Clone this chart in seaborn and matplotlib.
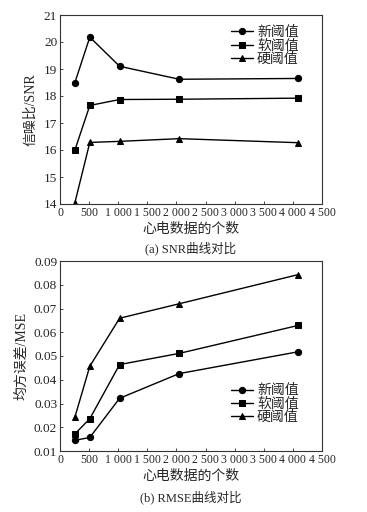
import matplotlib
matplotlib.use('Agg')
import matplotlib.pyplot as plt
import seaborn as sns
import pandas as pd
from matplotlib.ticker import FuncFormatter

n_points = [256, 512, 1024, 2048, 4096]
methods = ['新阈值', '软阈值', '硬阈值']
markers = ['o', 's', '^']

snr_new = [18.5, 20.18, 19.1, 18.62, 18.65]
snr_soft = [16.0, 17.65, 17.87, 17.88, 17.92]
snr_hard = [14.05, 16.28, 16.32, 16.42, 16.27]

mse_new = [0.0145, 0.0157, 0.0322, 0.0426, 0.0518]
mse_soft = [0.0172, 0.0236, 0.0464, 0.0511, 0.0629]
mse_hard = [0.0243, 0.0457, 0.0659, 0.0720, 0.0843]

sns.set_style('ticks')
plt.rcParams['font.family'] = ['Liberation Serif', 'Noto Sans CJK SC']
plt.rcParams['xtick.direction'] = 'in'
plt.rcParams['ytick.direction'] = 'in'

def build(vals):
    rows = []
    for m, v in zip(methods, vals):
        for x, y in zip(n_points, v):
            rows.append({'n': x, 'val': y, 'method': m})
    return pd.DataFrame(rows)

df_snr = build([snr_new, snr_soft, snr_hard])
df_mse = build([mse_new, mse_soft, mse_hard])

fig = plt.figure(figsize=(3.67, 5.12), dpi=100)
ax1 = fig.add_axes([60 / 367, 1 - 204 / 512, 262 / 367, 189 / 512])
ax2 = fig.add_axes([60 / 367, 1 - 451 / 512, 262 / 367, 190 / 512])

thou = FuncFormatter(lambda v, p: f'{int(v):,}'.replace(',', ' '))

for ax, df in [(ax1, df_snr), (ax2, df_mse)]:
    sns.lineplot(data=df, x='n', y='val', hue='method', style='method',
                 markers=markers, dashes=False, palette=['black'] * 3,
                 markersize=4.5, linewidth=1.0, markeredgecolor='black', ax=ax)
    ax.set_xlim(0, 4500)
    ax.set_xticks(range(0, 4501, 500))
    ax.xaxis.set_major_formatter(thou)
    ax.tick_params(axis='x', labelsize=8.5, length=2, width=0.6, pad=2)
    ax.tick_params(axis='y', labelsize=9.5, length=2, width=0.6, pad=2)
    for s in ax.spines.values():
        s.set_linewidth(0.8)
        s.set_color('#333333')
    ax.set_xlabel('心电数据的个数', fontsize=10, labelpad=3)

ax1.set_ylim(14, 21)
ax1.set_yticks(range(14, 22))
ax1.set_ylabel('信噪比/SNR', fontsize=10, labelpad=5)
ax1.legend(frameon=False, fontsize=10, loc='upper left',
           bbox_to_anchor=(0.63, 0.97), handlelength=1.6, labelspacing=0.0,
           handletextpad=0.3, borderaxespad=0, title=None)

ax2.set_ylim(0.01, 0.09)
ax2.set_yticks([0.01 * i for i in range(1, 10)])
ax2.yaxis.set_major_formatter(FuncFormatter(lambda v, p: f'{v:.2f}'))
ax2.set_ylabel('均方误差/MSE', fontsize=10, labelpad=4)
ax2.legend(frameon=False, fontsize=10, loc='upper left',
           bbox_to_anchor=(0.63, 0.38), handlelength=1.6, labelspacing=0.0,
           handletextpad=0.3, borderaxespad=0, title=None)

fig.text(191 / 367, 1 - 248 / 512, '(a) SNR曲线对比', ha='center', va='center', fontsize=9)
fig.text(191 / 367, 1 - 497 / 512, '(b) RMSE曲线对比', ha='center', va='center', fontsize=9)

fig.savefig('out.png', dpi=100)
